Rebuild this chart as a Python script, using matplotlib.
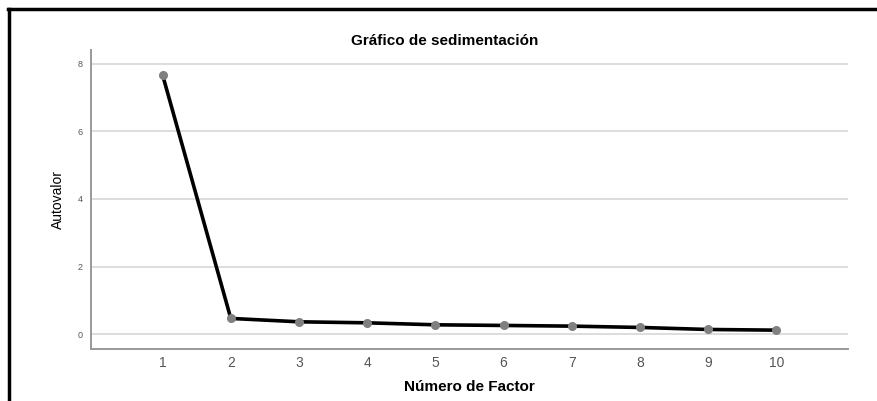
import matplotlib
matplotlib.use("Agg")
import matplotlib.pyplot as plt
from matplotlib.lines import Line2D

# datos del gráfico de sedimentación
factores = [1, 2, 3, 4, 5, 6, 7, 8, 9, 10]
autovalores = [7.67, 0.465, 0.365, 0.335, 0.276, 0.257, 0.237, 0.198, 0.138, 0.118]
y_ticks = [0, 2, 4, 6, 8]

plt.rcParams['font.family'] = ['Liberation Sans', 'DejaVu Sans']

fig = plt.figure(figsize=(8.78, 4.01), dpi=100)
W, H = 878.0, 401.0
ax = fig.add_axes([91 / W, 1 - 349 / H, (848 - 91) / W, (349 - 50) / H])

ax.plot(factores, autovalores, color='black', lw=2.6, zorder=3,
        marker='o', markersize=5.5, markerfacecolor='#808080', markeredgecolor='#808080')

ax.set_xlim(-0.05, 11.05)
ax.set_ylim(-0.44, 8.41)
ax.set_xticks(factores)
ax.set_yticks(y_ticks)
ax.tick_params(axis='x', length=0, pad=5, labelsize=10, labelcolor='#555555')
ax.tick_params(axis='y', length=0, pad=6, labelsize=6.5, labelcolor='#555555')

ax.yaxis.grid(True, color='#dddddd', lw=1.4)
ax.set_axisbelow(True)
for s in ['top', 'right']:
    ax.spines[s].set_visible(False)
for s in ['left', 'bottom']:
    ax.spines[s].set_color('#999999')
    ax.spines[s].set_linewidth(1.4)

ax.set_ylabel('Autovalor', fontsize=10, labelpad=9)
ax.set_xlabel('Número de Factor', fontsize=11, fontweight='bold', labelpad=7)
fig.text(445 / W, 1 - 41 / H, 'Gráfico de sedimentación', ha='center', va='center',
         fontsize=11, fontweight='bold')

# marco negro (arriba e izquierda)
fig.add_artist(Line2D([8 / W, 1], [1 - 8.5 / H, 1 - 8.5 / H], color='black', lw=2.5,
                      transform=fig.transFigure))
fig.add_artist(Line2D([8.5 / W, 8.5 / W], [0, 1 - 8.5 / H], color='black', lw=2.5,
                      transform=fig.transFigure))

fig.savefig('out.png', dpi=100)
